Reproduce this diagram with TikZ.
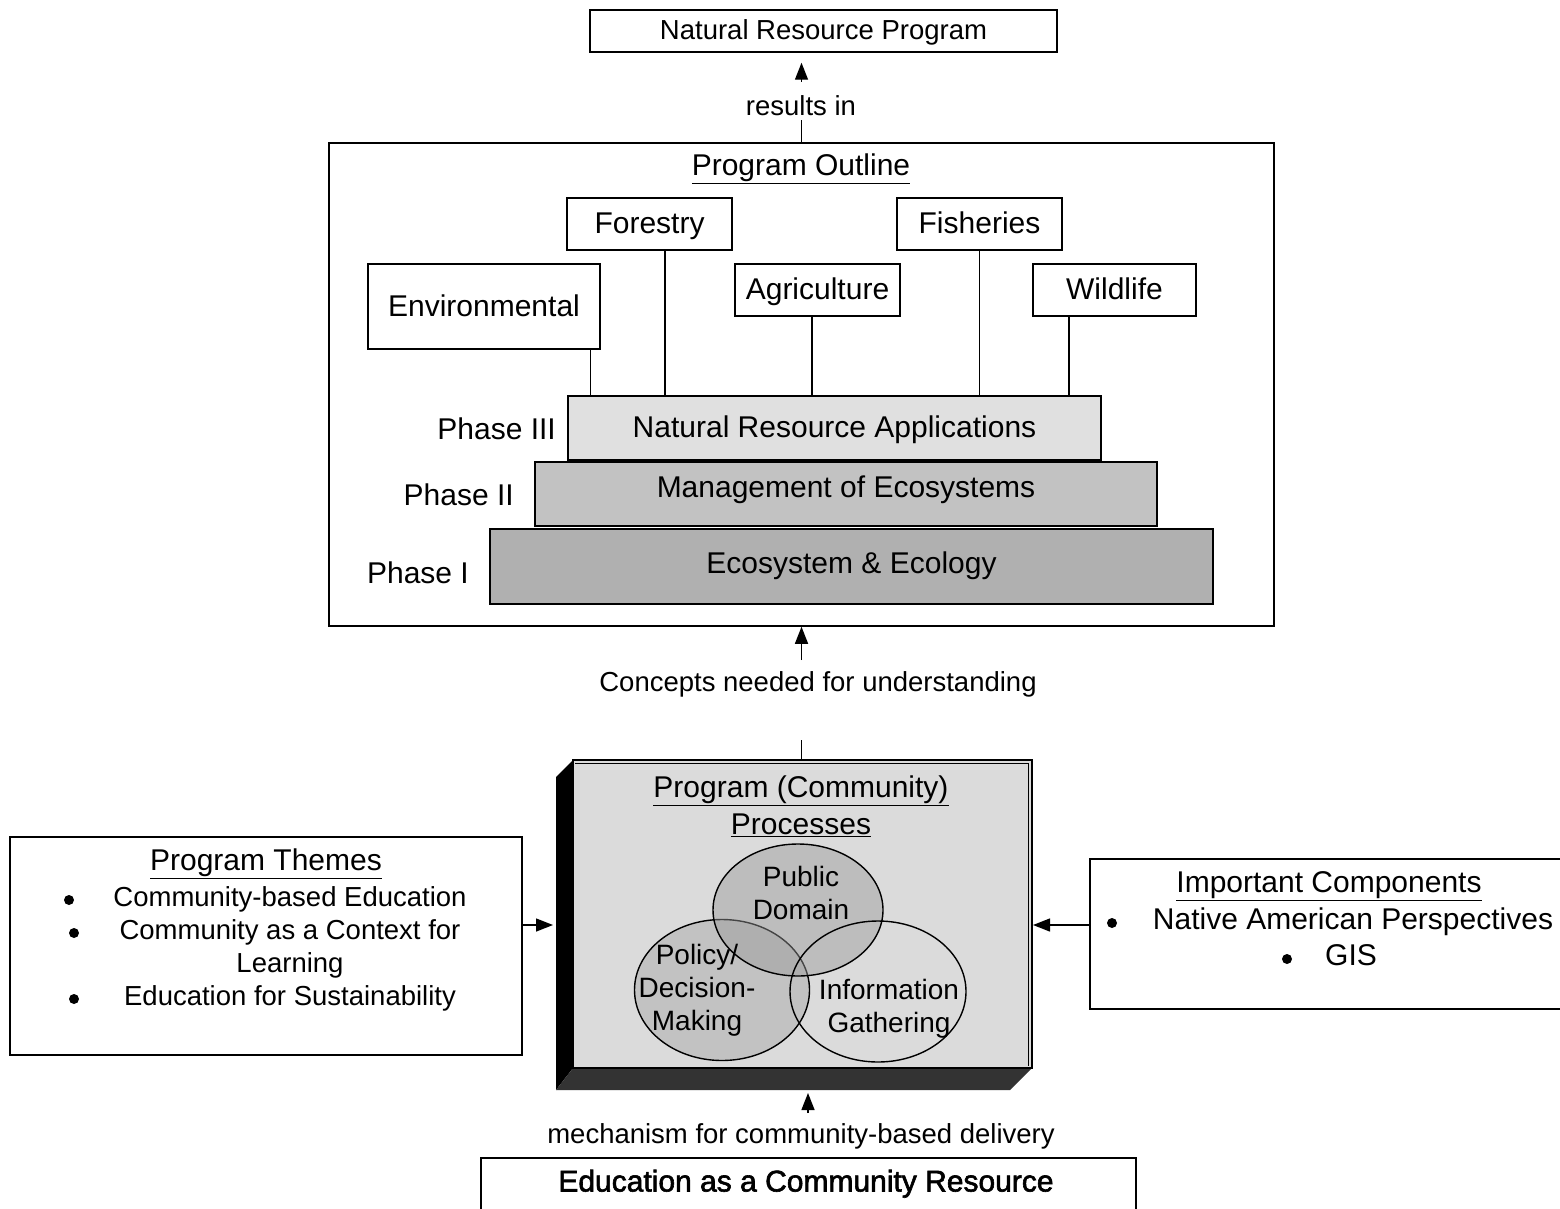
\documentclass[tikz,border=0pt]{standalone}
\usepackage{fontspec}
\setmainfont{Liberation Sans}
\newfontfamily\medfont{Liberation Sans}[FakeBold=2]
\usetikzlibrary{arrows.meta,shapes.geometric}

\newcommand\sizeL{\fontsize{30}{37}\selectfont}
\newcommand\sizeM{\fontsize{27.5}{33}\selectfont}
\newcommand\sizeV{\fontsize{28}{33}\selectfont}

\tikzset{
  box/.style={draw, line width=1.5pt, rectangle, inner sep=0pt, text height=22pt, text depth=3pt},
  txt/.style={inner sep=0pt, text height=21pt, text depth=4pt},
  mtxt/.style={inner sep=0pt, align=center},
  arr/.style={line width=1.4pt, -{Triangle[length=17pt,width=13pt]}},
  link/.style={line width=1.4pt},
  bul/.style={circle, fill=black, inner sep=0pt, minimum size=10pt},
}

\begin{document}
\begin{tikzpicture}[x=1pt, y=-1pt]
\useasboundingbox (0,0) rectangle (1560,1209);

% ---------- top result ----------
\node[box, minimum width=467, minimum height=42, font=\sizeM, text height=20pt] (nrp) at (823.5,31) {Natural Resource Program};

% ---------- program outline frame ----------
\node[box, minimum width=945, minimum height=483] (outline) at (801.5,384.5) {};
\node[txt, font=\sizeL] (otitle) at (801,167) {\underline{Program Outline}};

% subject boxes
\node[box, minimum width=165, minimum height=52, font=\sizeL] (for) at (649.5,224) {Forestry};
\node[box, minimum width=165, minimum height=52, font=\sizeL] (fis) at (979.5,224) {Fisheries};
\node[box, minimum width=232, minimum height=85, font=\sizeL] (env) at (484,306.5) {Environmental};
\node[box, minimum width=165, minimum height=52, font=\sizeL] (agr) at (817.5,290) {Agriculture};
\node[box, minimum width=163, minimum height=52, font=\sizeL] (wil) at (1114.5,290) {Wildlife};

% phases (pyramid)
\node[box, fill=black!12, minimum width=533, minimum height=64, font=\sizeL] (p3) at (834.5,428) {Natural Resource Applications};
\node[box, fill=black!24, minimum width=622, minimum height=64, font=\sizeL, text depth=16pt] (p2) at (846,494) {Management of Ecosystems};
\node[box, fill=black!31, minimum width=723, minimum height=75, font=\sizeL, text depth=9pt] (p1) at (851.5,566.5) {Ecosystem \& Ecology};

\node[txt, font=\sizeL, anchor=east] (l3) at (556,431) {Phase III};
\node[txt, font=\sizeL, anchor=east] (l2) at (514,497) {Phase II};
\node[txt, font=\sizeL, anchor=east] (l1) at (469,575) {Phase I};

% subjects stand on phase III
\draw[link] ([xshift=-10pt]env.south east) -- ++(0,47);
\draw[link] ([xshift=15.5pt]for.south) -- ++(0,146);
\draw[link] ([xshift=-5.5pt]agr.south) -- ++(0,80);
\draw[link] (fis.south) -- ++(0,146);
\draw[link] ([xshift=-45.5pt]wil.south) -- ++(0,80);

% outline -> result
\node[txt, font=\sizeM] (res) at (801,107) {results in};
\coordinate (r1) at (801.5,120);
\coordinate (r2) at (801.5,82);
\draw[link] (outline.north) -- (r1);
\draw[arr] (r2) -- ([yshift=-10pt]nrp.south -| r2);

% ---------- community processes (3-D box) ----------
\fill[black] (573,760) -- (556,777) -- (556,1090) -- (573,1068) -- cycle;
\fill[black!80] (556,1090) -- (1010,1090) -- (1032,1068) -- (573,1068) -- cycle;
\node[box, fill=black!14, minimum width=459, minimum height=308] (comm) at (802.5,914) {};
\draw[line width=0.8pt] (575,763.5) -- (1028.5,763.5) -- (1028.5,1066);

\node[mtxt, font=\sizeL] (ctitle) at (801,806) {\underline{Program (Community)}\\\underline{Processes}};

% Venn of processes
\node[draw, line width=1.4pt, ellipse, fill=black!24, minimum width=175, minimum height=141, inner sep=0pt] (pol) at (722,990) {};
\node[draw, line width=1.4pt, ellipse, fill=black!40, fill opacity=0.45, minimum width=170, minimum height=132, inner sep=0pt] (pub) at (798,910) {};
\node[draw, line width=1.4pt, ellipse, minimum width=176, minimum height=141, inner sep=0pt] (inf) at (878,991.5) {};

\node[mtxt, font=\sizeV] (pubt) at (801,893) {Public\\Domain};
\node[mtxt, font=\sizeV] (polt) at (697,990) {Policy/\\Decision-\\Making};
\node[mtxt, font=\sizeV] (inft) at (889,1009) {Information\\Gathering};

% concepts arrow
\node[txt, font=\sizeM] (conc) at (818,683) {Concepts needed for understanding};
\coordinate (c1) at (801.5,740);
\coordinate (c2) at (801.5,660);
\draw[link] (c1) -- (c1 |- comm.north);
\draw[arr] (c2) -- (c2 |- outline.south);

% ---------- program themes ----------
\node[box, minimum width=512, minimum height=218] (themes) at (266,946) {};
\node[txt, font=\sizeL] (tht) at (266,862) {\underline{Program Themes}};
\node[bul] (b1) at (69,900) {};
\node[txt, font=\sizeM] (th1) at (290,898) {Community-based Education};
\node[bul] (b2) at (74,933) {};
\node[txt, font=\sizeM] (th2) at (290,931) {Community as a Context for};
\node[txt, font=\sizeM] (th3) at (290,964) {Learning};
\node[bul] (b3) at (74,999) {};
\node[txt, font=\sizeM] (th4) at (290,997) {Education for Sustainability};
\draw[arr] (themes.east |- 0,925) -- (553,925);

% ---------- important components ----------
\node[box, minimum width=560, minimum height=150, anchor=north west] (comp) at (1089,858) {};
\node[txt, font=\sizeL] (cpt) at (1329,884) {\underline{Important Components}};
\node[bul] (b4) at (1112,923) {};
\node[txt, font=\sizeL] (cp1) at (1353,921) {Native American Perspectives};
\node[bul] (b5) at (1287,959) {};
\node[txt, font=\sizeL] (cp2) at (1351,957) {GIS};
\draw[arr] (comp.west |- 0,925) -- (1033,925);

% ---------- education as a community resource ----------
\node[box, minimum width=655, minimum height=80, anchor=north west] (edu) at (480,1157) {};
\node[txt, font=\sizeL\medfont] (edut) at (806,1183) {Education as a Community Resource};
\node[txt, font=\sizeM] (mech) at (801,1135) {mechanism for community-based delivery};
\coordinate (m1) at (808,1113);
\draw[arr] (m1) -- (808,1093);

\end{tikzpicture}
\end{document}
